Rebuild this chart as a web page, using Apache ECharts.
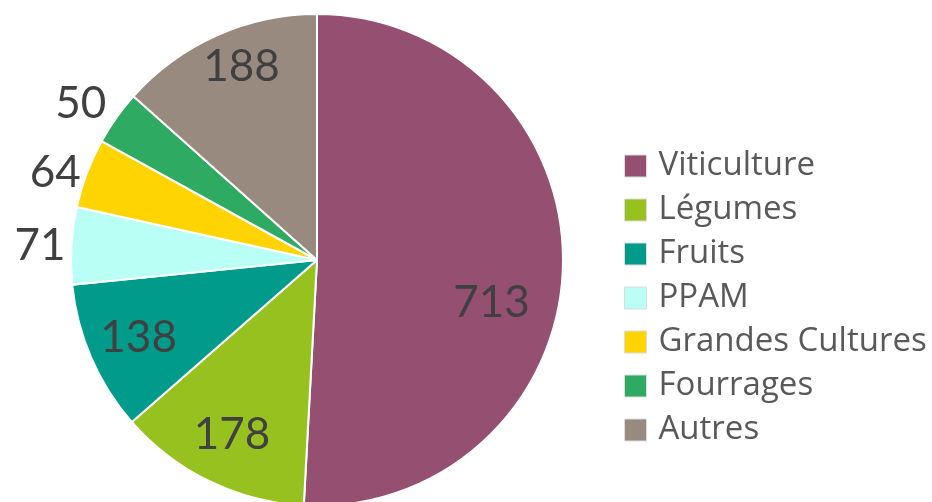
<!DOCTYPE html>
<html>
<head>
<meta charset="utf-8">
<script src="https://cdn.jsdelivr.net/npm/echarts@6/dist/echarts.min.js"></script>
<style>
  html, body { margin: 0; padding: 0; background: #fff; }
  #chart { width: 932px; height: 502px; }
</style>
</head>
<body>
<div id="chart"></div>
<script>
const categories = ['Viticulture', 'Légumes', 'Fruits', 'PPAM', 'Grandes Cultures', 'Fourrages', 'Autres']
const values = [713, 178, 138, 71, 64, 50, 188]
const colors = ['#944F71', '#97C11F', '#009B8A', '#BAFFF6', '#FFD400', '#2EAA62', '#998A80']
// small slices get their number outside the pie
const outsideLabel = [false, false, false, true, true, true, false]

const chart = echarts.init(document.getElementById('chart'))

const center = [317, 260]
const radius = 246

// nudges so the numbers sit where the original put them
const labelNudge = { Viticulture: [-20, 38], Autres: [4, -16], Fourrages: [-4, -14] }

const option = {
  animation: false,
  legend: {
    orient: 'vertical',
    left: 624,
    top: 149,
    padding: 0,
    itemWidth: 22,
    itemHeight: 22,
    itemGap: 10,
    icon: 'rect',
    data: categories,
    itemStyle: { borderColor: '#dcdcdc', borderWidth: 1 },
    textStyle: { fontFamily: 'Open Sans', fontSize: 33, color: '#595959', lineHeight: 34, padding: [0, 0, 0, 7] },
  },
  series: [
    {
      type: 'pie',
      center: center,
      radius: radius,
      startAngle: 90,
      avoidLabelOverlap: false,
      itemStyle: { borderColor: '#fff', borderWidth: 2 },
      label: { show: false },
      labelLine: { show: false },
      emphasis: { disabled: true },
      data: categories.map((name, i) => ({
        name: name,
        value: values[i],
        itemStyle: { color: colors[i] },
      })),
    },
    {
      // overlay used only to place the value labels a bit further out
      type: 'pie',
      center: center,
      radius: [137, radius],
      startAngle: 90,
      silent: true,
      avoidLabelOverlap: false,
      legendHoverLink: false,
      itemStyle: { color: 'rgba(0,0,0,0)' },
      labelLine: { show: false, length: 0, length2: 0 },
      emphasis: { disabled: true },
      data: categories.map((name, i) => ({
        name: name,
        value: values[i],
        label: {
          show: true,
          position: outsideLabel[i] ? 'outside' : 'inside',
          formatter: '{c}',
          fontFamily: 'Lato',
          fontSize: 44,
          color: '#404040',
          distanceToLabelLine: 6,
          offset: labelNudge[name] || [0, 0],
        },
      })),
    },
  ],
}

chart.setOption(option)
</script>
</body>
</html>
